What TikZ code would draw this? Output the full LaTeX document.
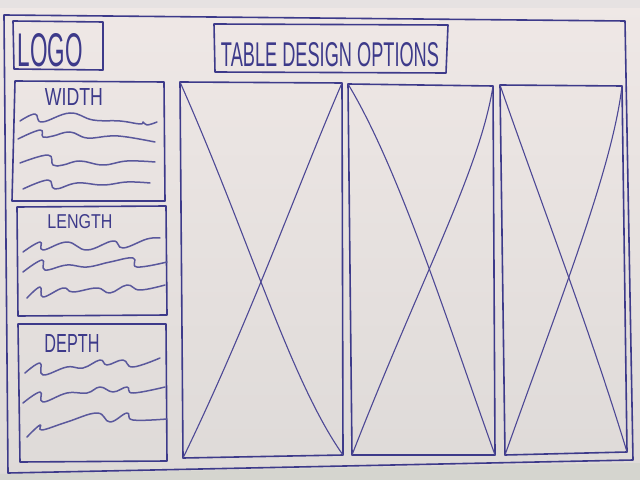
\documentclass[tikz,border=0pt]{standalone}
\usepackage{fontspec}
\setmainfont{Liberation Sans}
\usepackage{graphicx}
\usetikzlibrary{shadings}
\definecolor{ink}{HTML}{3D3A8A}
\definecolor{inklight}{HTML}{4D4895}
\definecolor{papertop}{HTML}{EFE8E6}
\definecolor{paperbot}{HTML}{DEDAD8}
\definecolor{strip}{HTML}{E6E2E2}
\definecolor{table}{HTML}{D5D5CF}
\newcommand{\hwtext}[3]{\resizebox{#1bp}{#2bp}{#3}}
\begin{document}
\begin{tikzpicture}[x=1bp,y=-1bp,line cap=round,line join=round,
  frame/.style={draw=ink,line width=1.6bp},
  cross/.style={draw=inklight,line width=1.1bp},
  wave/.style={draw=ink!85,line width=1.5bp},
  hand/.style={text=ink,inner sep=0pt}]
\useasboundingbox (0,0) rectangle (640,480);
\shade[top color=papertop,bottom color=paperbot] (0,0) rectangle (640,480);
\fill[strip] (0,0) rectangle (640,8);
\fill[table] (0,474) -- (640,463) -- (640,480) -- (0,480) -- cycle;

% outer sheet frame
\draw[frame] (4,15) -- (625,21) -- (633,460) -- (8,473) -- cycle;

% logo and title
\draw[frame] (13,21) -- (103,22) -- (103,70) -- (14,69) -- cycle;
\node[hand] (logo) at (50,50) {\hwtext{65}{33}{LOGO}};
\draw[frame] (214,24) -- (448,25) -- (446,73) -- (215,72) -- cycle;
\node[hand] (title) at (330,55) {\hwtext{218}{24}{TABLE DESIGN OPTIONS}};

% left panels
\draw[frame] (15,81) -- (164,82) -- (165,201) -- (12,201) -- cycle;
\node[hand] (width) at (74,97) {\hwtext{58}{17}{WIDTH}};
\draw[wave] plot[smooth,tension=0.7] coordinates {(20,121) (35,114) (42,122) (70,113) (93,120) (120,121) (140,124) (143,122) (147,125) (157,122)};
\draw[wave] plot[smooth,tension=0.7] coordinates {(18,139) (40,130) (43,137) (53,136) (70,132) (87,138) (110,136) (127,137) (155,142)};
\draw[wave] plot[smooth,tension=0.7] coordinates {(20,163) (48,155) (53,165) (63,165) (80,161) (103,165) (127,161) (155,162)};
\draw[wave] plot[smooth,tension=0.7] coordinates {(23,189) (48,180) (55,189) (77,183) (103,185) (127,182) (150,183)};

\draw[frame] (17,207) -- (166,206) -- (167,315) -- (18,316) -- cycle;
\node[hand] (length) at (80,222) {\hwtext{65}{14}{LENGTH}};
\draw[wave] plot[smooth,tension=0.7] coordinates {(23,252) (40,242) (43,250) (67,242) (87,250) (113,241) (123,248) (147,239) (160,238)};
\draw[wave] plot[smooth,tension=0.7] coordinates {(23,272) (42,260) (45,270) (67,265) (87,267) (110,262) (133,258) (137,267) (167,262)};
\draw[wave] plot[smooth,tension=0.7] coordinates {(27,298) (40,287) (43,297) (63,288) (73,292) (97,288) (110,293) (127,285) (140,290) (165,285)};

\draw[frame] (18,324) -- (166,324) -- (167,461) -- (20,462) -- cycle;
\node[hand] (depth) at (72,343) {\hwtext{55}{18}{DEPTH}};
\draw[wave] plot[smooth,tension=0.7] coordinates {(25,373) (40,363) (43,375) (67,367) (83,368) (100,360) (107,365) (123,360) (133,367) (160,358)};
\draw[wave] plot[smooth,tension=0.7] coordinates {(23,403) (40,392) (43,402) (67,393) (87,393) (100,387) (113,392) (127,387) (133,393) (165,387)};
\draw[wave] plot[smooth,tension=0.7] coordinates {(27,437) (40,425) (42,430) (67,422) (97,413) (110,422) (127,413) (133,420) (167,419)};

% image placeholders
\coordinate (a1) at (180,82); \coordinate (b1) at (342,83);
\coordinate (c1) at (343,455); \coordinate (d1) at (183,458);
\draw[frame] (a1) -- (b1) -- (c1) -- (d1) -- cycle;
\draw[cross] (a1) .. controls (250,240) and (290,380) .. (c1);
\draw[cross] (b1) .. controls (300,180) and (250,320) .. (d1);

\coordinate (a2) at (348,84); \coordinate (b2) at (493,86);
\coordinate (c2) at (495,455); \coordinate (d2) at (352,455);
\draw[frame] (a2) -- (b2) -- (c2) -- (d2) -- cycle;
\draw[cross] (a2) .. controls (400,170) and (450,330) .. (c2);
\draw[cross] (b2) .. controls (480,170) and (420,280) .. (d2);

\coordinate (a3) at (500,85); \coordinate (b3) at (622,86);
\coordinate (c3) at (627,452); \coordinate (d3) at (505,455);
\draw[frame] (a3) -- (b3) -- (c3) -- (d3) -- cycle;
\draw[cross] (a3) .. controls (540,200) and (590,330) .. (c3);
\draw[cross] (b3) .. controls (612,170) and (560,300) .. (d3);
\end{tikzpicture}
\end{document}
